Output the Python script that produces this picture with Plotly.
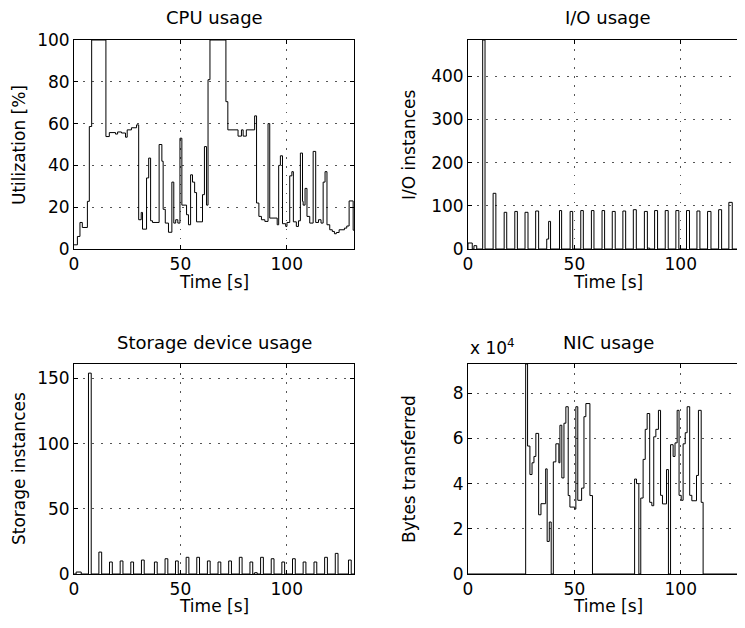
import plotly.graph_objects as go

# page is drawn with an 8px body margin, so the figure is 8px smaller and offset
PAGE_W, PAGE_H, OFF = 745, 628, 8
W, H = PAGE_W - OFF, PAGE_H - OFF

# ---------------- data ----------------
cpu_time = [0, 1.6, 2.8, 3.9, 6.3, 7.2, 8.3, 15.0, 16.6, 19.5, 20.5, 22.3, 24.2, 25.0, 27.0, 29.4,
            30.4, 31.6, 32.2, 34.1, 35.1, 36.0, 36.9, 40.0, 41.3, 41.9, 42.9, 44.4, 46.0, 46.9,
            47.8, 48.8, 49.8, 50.7, 52.9, 53.8, 54.8, 55.7, 56.7, 57.6, 60.4, 61.3, 62.3, 63.0,
            63.9, 71.4, 72.3, 77.1, 78.7, 79.5, 81.0, 84.9, 85.8, 86.9, 88.1, 89.7, 91.2, 92.0,
            95.5, 96.2, 97.0, 98.0, 99.5, 100.1, 101.4, 102.4, 103.1, 104.5, 105.5, 106.4, 107.4,
            107.7, 108.6, 109.5, 110.8, 112.4, 113.6, 114.9, 116.1, 117.1, 118.0, 118.9, 120.2,
            121.4, 122.4, 123.3, 124.6, 127.1, 128.2, 129.3, 131.2]
cpu_util = [2, 6, 12.7, 10.3, 22.8, 58.6, 100, 53.8, 55.7, 55, 56, 55.5, 53.5, 57, 58, 59.4,
            14, 17.5, 9.5, 34, 43.5, 13.5, 12.7, 50, 42, 19, 12.4, 8, 32, 12.4,
            14, 12.4, 53, 21, 16.4, 11.6, 35.5, 32, 27, 13, 26, 49, 21, 81,
            100, 70.5, 57, 54, 57, 54, 57, 63.7, 22, 15.6, 14, 13.2, 60, 14.8,
            11.6, 40, 44.6, 12.1, 10.8, 12.7, 35, 37, 13, 10.8, 13.5, 45.9, 22.8,
            21, 29, 15.6, 12.4, 46.7, 12.7, 14, 12.4, 32, 37, 11.6, 9.2,
            8.4, 7.3, 7.9, 9.2, 10, 11, 23, 9]

io_start = [0.0, 2.8, 6.9, 11.8, 17.0, 22.0, 26.8, 31.8, 37.0, 37.9,
            43.0, 48.0, 53.0, 58.0, 63.0, 67.8, 72.8, 77.7, 82.9, 84.4,
            87.7, 92.7, 97.7, 102.7, 107.6, 112.6, 117.8, 122.6, 128.6]
io_dur = [2.0, 1.3, 1.1, 1.3, 1.2, 1.2, 1.4, 1.4, 0.9, 0.9,
          1.0, 1.2, 1.2, 1.2, 1.2, 1.4, 1.3, 1.4, 1.4, 1.0,
          1.4, 1.4, 1.4, 1.4, 1.4, 1.6, 1.4, 1.6, 5.0]
io_count = [13.9, 7.7, 484, 129, 85, 87, 85, 88, 23, 64,
            89, 87, 89, 89, 89, 87, 88, 91, 87, 2,
            89, 89, 89, 89, 88, 87, 91, 108, 89]

st_start = [1.0, 6.8, 11.7, 16.7, 21.7, 26.7, 31.7, 37.8, 42.8, 47.7,
            52.7, 57.7, 62.7, 67.7, 72.7, 77.7, 82.7, 84.9, 87.7, 92.7,
            97.7, 102.7, 107.7, 112.8, 117.8, 122.8, 129.0]
st_dur = [2.4, 1.3, 1.3, 1.3, 1.3, 1.3, 1.3, 1.3, 1.3, 1.3,
          1.3, 1.3, 1.3, 1.3, 1.3, 1.3, 1.3, 1.2, 1.3, 1.3,
          1.3, 1.3, 1.3, 1.3, 1.3, 1.3, 1.3]
st_count = [1.5, 154, 16.8, 9.2, 10, 9.2, 10.7, 9.2, 11.7, 10,
            12.8, 12.8, 10, 9.2, 10, 12.8, 9.2, 1, 12.8, 11.7,
            9.2, 11.7, 9.2, 9.2, 12.8, 15.8, 10.7]

nic_time = [0, 27.1, 28.0, 29.1, 30.1, 31.0, 31.9, 33.2, 34.3, 36.5, 37.2, 38.2, 39.1, 40.1,
            41.3, 42.7, 43.2, 44.1, 45.1, 46.0, 47.1, 47.9, 50.2, 50.7, 51.6, 53.4, 54.5,
            55.4, 57.3, 58.5, 78.3, 79.2, 80.3, 81.2, 82.3, 83.3, 84.2, 85.4, 86.4, 87.3,
            88.3, 89.5, 90.5, 91.4, 93.3, 94.2, 95.2, 96.4, 97.3, 98.3, 99.2, 100.2, 101.1,
            102.1, 103.0, 104.2, 105.2, 107.4, 108.3, 109.6, 110.5]
nic_bytes = [0, 92900, 56600, 44000, 49200, 52000, 62200, 26200, 31100, 46500, 14400, 23000, 0, 49600,
             57600, 49200, 65800, 42500, 66700, 74000, 34700, 29600, 28700, 74000, 32600, 38000, 69600,
             75400, 34700, 0, 42000, 40000, 0, 33600, 50700, 64000, 71000, 31700, 30200, 60700,
             64000, 72400, 34800, 31000, 46200, 0, 57200, 52000, 58000, 72400, 34800, 32600, 57600,
             62500, 74000, 34800, 32400, 43600, 72400, 31700, 0]

x_ticks = [0, 50, 100]
cpu_ticks = [0, 20, 40, 60, 80, 100]
io_ticks = [0, 100, 200, 300, 400]
st_ticks = [0, 50, 100, 150]
nic_ticks = [0, 20000, 40000, 60000, 80000]
nic_ticklabels = ["0", "2", "4", "6", "8"]

T_END = 131.6


def pulses_to_steps(starts, durs, heights, t_end):
    xs, ys = [0.0], [0.0]
    for i, (s, d, h) in enumerate(zip(starts, durs, heights)):
        xs.append(s); ys.append(h)
        e = s + d
        nxt = starts[i + 1] if i + 1 < len(starts) else None
        if nxt is None:
            if e < t_end:
                xs.append(e); ys.append(0)
        elif nxt > e + 1e-9:
            xs.append(e); ys.append(0)
    xs.append(t_end); ys.append(ys[-1])
    return xs, ys


def px(x):
    return (x - OFF) / W


def py(y):
    return 1 - (y - OFF) / H


FONT = "DejaVu Sans, Liberation Sans, Arial, sans-serif"
LINE = dict(color="black", width=1)

fig = go.Figure()

fig.add_trace(go.Scatter(x=cpu_time + [T_END], y=cpu_util + [cpu_util[-1]], mode="lines",
                         line=LINE, line_shape="hv", xaxis="x", yaxis="y", showlegend=False))
iox, ioy = pulses_to_steps(io_start, io_dur, io_count, T_END)
fig.add_trace(go.Scatter(x=iox, y=ioy, mode="lines", line=LINE, line_shape="hv",
                         xaxis="x2", yaxis="y2", showlegend=False))
stx, sty = pulses_to_steps(st_start, st_dur, st_count, T_END)
fig.add_trace(go.Scatter(x=stx, y=sty, mode="lines", line=LINE, line_shape="hv",
                         xaxis="x3", yaxis="y3", showlegend=False))
fig.add_trace(go.Scatter(x=nic_time + [T_END], y=nic_bytes + [nic_bytes[-1]], mode="lines",
                         line=LINE, line_shape="hv", xaxis="x4", yaxis="y4", showlegend=False))

GRID = dict(showgrid=True, gridcolor="#555555", griddash="1.5px,7.5px", gridwidth=1,
            zeroline=False, showline=True, linecolor="black", linewidth=1,
            ticks="inside", ticklen=4, tickcolor="black", tickwidth=1, automargin=False,
            tickfont=dict(family=FONT, size=17, color="black"))

LX = [px(74), px(354)]
RX = [px(468), 1.0]
TY = [py(249), py(40)]
BY = [py(574), py(364)]
RIGHT_RANGE = [0, T_END * (745 - 468) / 280]

layout = dict(
    width=W, height=H, margin=dict(l=0, r=0, t=0, b=0, autoexpand=False),
    paper_bgcolor="white", plot_bgcolor="white",
    font=dict(family=FONT, size=17, color="black"),
    xaxis=dict(domain=LX, anchor="y", range=[0, T_END], tickvals=x_ticks, mirror="ticks", **GRID),
    yaxis=dict(domain=TY, anchor="x", range=[0, 100], tickvals=cpu_ticks, mirror="ticks", **GRID),
    xaxis2=dict(domain=RX, anchor="y2", range=RIGHT_RANGE, tickvals=x_ticks, mirror="ticks", **GRID),
    yaxis2=dict(domain=TY, anchor="x2", range=[0, 484], tickvals=io_ticks, mirror=False, **GRID),
    xaxis3=dict(domain=LX, anchor="y3", range=[0, T_END], tickvals=x_ticks, mirror="ticks", **GRID),
    yaxis3=dict(domain=BY, anchor="x3", range=[0, 161], tickvals=st_ticks, mirror="ticks", **GRID),
    xaxis4=dict(domain=RX, anchor="y4", range=RIGHT_RANGE, tickvals=x_ticks, mirror="ticks", **GRID),
    yaxis4=dict(domain=BY, anchor="x4", range=[0, 92900], tickvals=nic_ticks,
                ticktext=nic_ticklabels, mirror=False, **GRID),
)
fig.update_layout(**layout)


def note(text, x, y, angle=0, xanchor="center", size=17):
    fig.add_annotation(text=text, x=px(x), y=py(y), xref="paper", yref="paper",
                       showarrow=False, xanchor=xanchor, yanchor="middle", textangle=angle,
                       font=dict(family=FONT, size=size, color="black"))


note("CPU usage", 214, 18, size=18)
note("I/O usage", 608, 18, size=18)
note("Storage device usage", 214, 342, size=18)
note("NIC usage", 608, 342, size=18)
note("Time [s]", 214, 282)
note("Time [s]", 608, 282)
note("Time [s]", 214, 606)
note("Time [s]", 608, 606)
note("Utilization [%]", 19, 145, angle=-90)
note("I/O instances", 409, 145, angle=-90)
note("Storage instances", 19, 469, angle=-90)
note("Bytes transferred", 409, 469, angle=-90)
note("x 10<sup>4</sup>", 468, 347, xanchor="left")

fig.write_html("out.html")
